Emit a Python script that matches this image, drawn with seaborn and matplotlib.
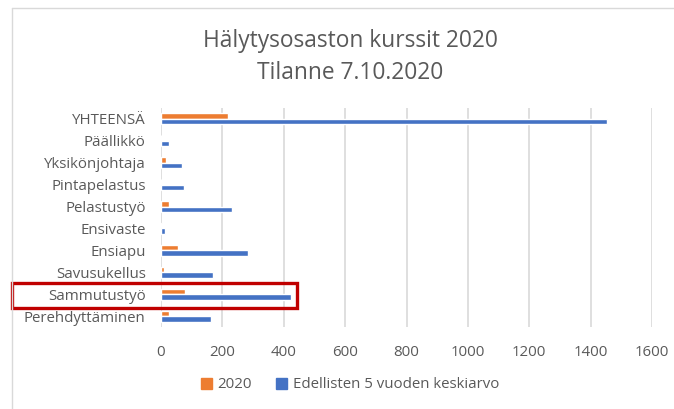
import pandas as pd
import seaborn as sns
import matplotlib.pyplot as plt
import matplotlib.transforms as mtransforms
from matplotlib.patches import Rectangle
from matplotlib.lines import Line2D

categories = ['YHTEENSÄ', 'Päällikkö', 'Yksikönjohtaja', 'Pintapelastus', 'Pelastustyö',
              'Ensivaste', 'Ensiapu', 'Savusukellus', 'Sammutustyö', 'Perehdyttäminen']
vals_2020 = [217, 0, 15, 0, 27, 2, 54, 9, 78, 27]
vals_avg = [1453, 25, 70, 74, 231, 14, 284, 168, 422, 162]
series = ['2020', 'Edellisten 5 vuoden keskiarvo']
xticks = [0, 200, 400, 600, 800, 1000, 1200, 1400, 1600]

df = pd.DataFrame({
    'kurssi': categories * 2,
    'n': vals_2020 + vals_avg,
    'sarja': [series[0]] * len(categories) + [series[1]] * len(categories),
})

sns.set_theme(style='white')
plt.rcParams['font.family'] = ['Open Sans', 'DejaVu Sans']

fig = plt.figure(figsize=(6.74, 4.09), dpi=100)
ax = fig.add_axes([161 / 674, 1 - 327 / 409, 491 / 674, 219 / 409])

palette = {series[0]: '#ED7D31', series[1]: '#4472C4'}
sns.barplot(data=df, y='kurssi', x='n', hue='sarja', order=categories, hue_order=series,
            palette=palette, orient='h', width=0.5, saturation=1, ax=ax, legend=False)

ax.set_xlim(0, 1600)
ax.set_ylim(9.5, -0.5)
ax.set_xticks(xticks)
ax.set_xlabel('')
ax.set_ylabel('')
ax.grid(axis='x', color='#D9D9D9', linewidth=1.2)
ax.set_axisbelow(True)
for s in ax.spines.values():
    s.set_visible(False)
ax.tick_params(axis='both', length=0, labelsize=10.8, labelcolor='#595959')
ax.tick_params(axis='x', pad=13)
ax.tick_params(axis='y', pad=11)

fig.text(350 / 674, 1 - 41 / 409, 'Hälytysosaston kurssit 2020', ha='center', va='center',
         fontsize=16.4, color='#595959')
fig.text(350 / 674, 1 - 73 / 409, 'Tilanne 7.10.2020', ha='center', va='center',
         fontsize=16.4, color='#595959')

handles = [Rectangle((0, 0), 1, 1, color=palette[s]) for s in series]
fig.legend(handles, series, loc='center', bbox_to_anchor=(350 / 674, 1 - 385 / 409), ncol=2,
           frameon=False, handlelength=0.7, handleheight=0.7, handletextpad=0.4,
           columnspacing=1.6, labelcolor='#595959', fontsize=10.8)

# chart frame
fig.add_artist(Line2D([12 / 674, 12 / 674], [0, 1 - 8 / 409], transform=fig.transFigure,
                      color='#D9D9D9', linewidth=1))
fig.add_artist(Line2D([12 / 674, 1], [1 - 8 / 409, 1 - 8 / 409], transform=fig.transFigure,
                      color='#D9D9D9', linewidth=1))

# highlight box around Sammutustyö
idx = categories.index('Sammutustyö')
trans = mtransforms.blended_transform_factory(fig.transFigure, ax.transData)
box = Rectangle((12 / 674, idx - 0.52), (297 - 12) / 674, 1.14, transform=trans,
                fill=False, edgecolor='#C00000', linewidth=2.4, clip_on=False)
fig.add_artist(box)

fig.savefig('out.png', dpi=100)
